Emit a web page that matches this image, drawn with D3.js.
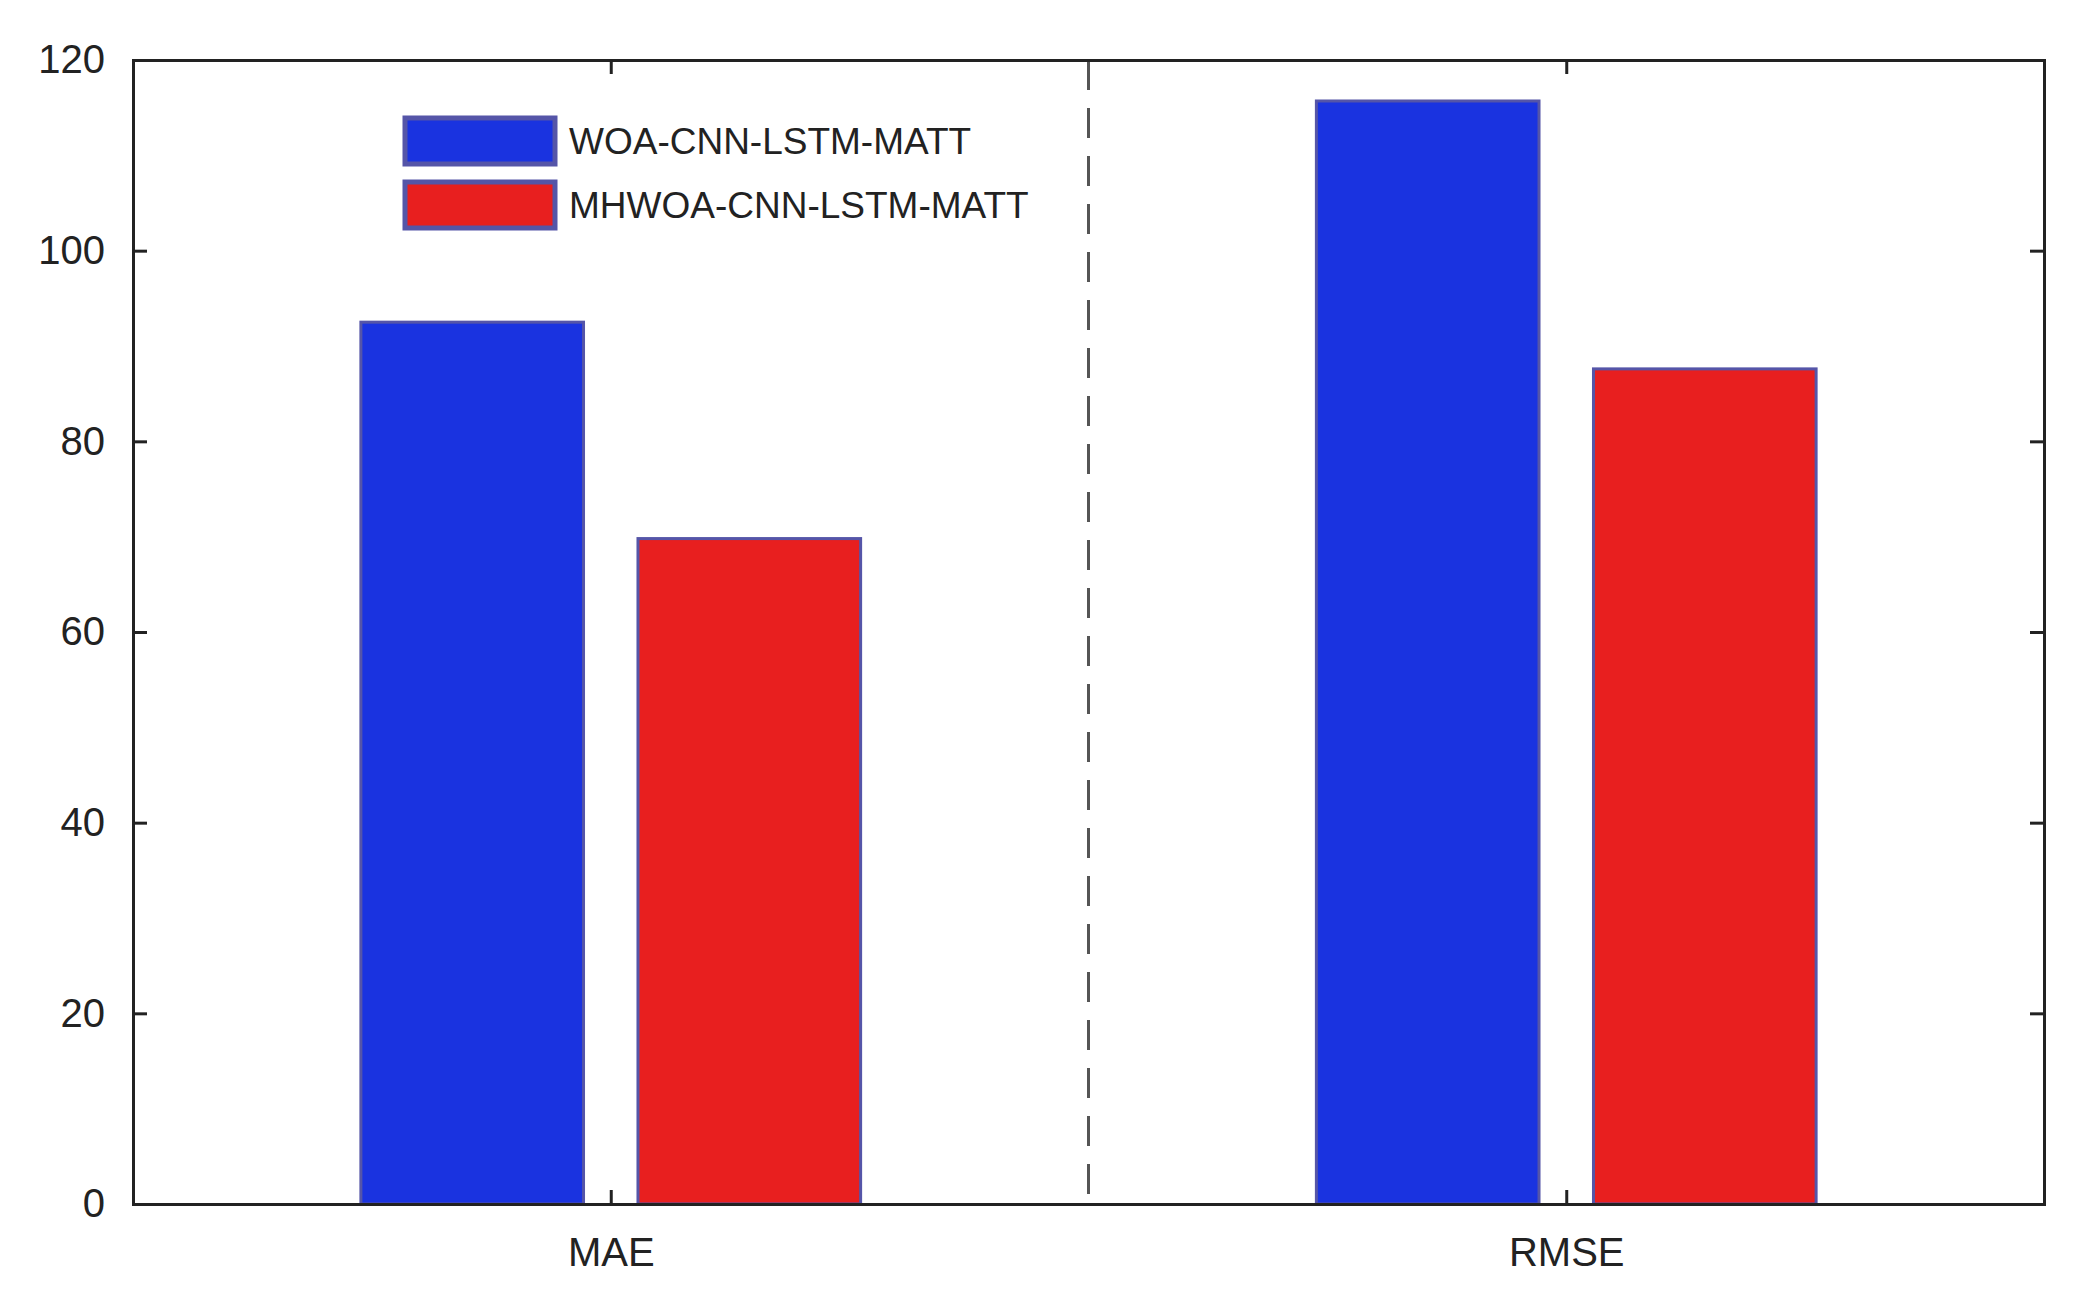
<!DOCTYPE html>
<html>
<head>
<meta charset="UTF-8">
<script src="https://d3js.org/d3.v7.min.js"></script>
<style>
  body { margin: 0; background: #fff; }
  text { font-family: Arial, "Liberation Sans", sans-serif; fill: #222; }
</style>
</head>
<body>
<script>
const categories = ["MAE", "RMSE"];
const series = ["WOA-CNN-LSTM-MATT", "MHWOA-CNN-LSTM-MATT"];
const woaValues = [92.5, 115.7];
const mhwoaValues = [69.8, 87.6];
const yTicks = [0, 20, 40, 60, 80, 100, 120];

const W = 2073, H = 1296;
const m = { left: 133, right: 29, top: 60, bottom: 92 };
const colors = ["#1a33e0", "#e81f1f"];
const edge = "#5555a8";

const svg = d3.select("body").append("svg").attr("width", W).attr("height", H);

const x = d3.scaleLinear().domain([0.5, 2.5]).range([m.left, W - m.right]);
const y = d3.scaleLinear().domain([0, 120]).range([H - m.bottom, m.top]);

const bw = 0.233, off = 0.145;
const rows = [];
categories.forEach((c, i) => {
  rows.push({ pos: i + 1 - off, v: woaValues[i], s: 0 });
  rows.push({ pos: i + 1 + off, v: mhwoaValues[i], s: 1 });
});

// dashed separator
svg.append("line")
  .attr("x1", x(1.5)).attr("x2", x(1.5))
  .attr("y1", y(120)).attr("y2", y(0))
  .attr("stroke", "#555").attr("stroke-width", 3)
  .attr("stroke-dasharray", "30,18");

svg.selectAll("rect.bar")
  .data(rows)
  .enter()
  .append("rect")
  .attr("class", "bar")
  .attr("x", d => x(d.pos - bw / 2))
  .attr("width", d => x(d.pos + bw / 2) - x(d.pos - bw / 2))
  .attr("y", d => y(d.v))
  .attr("height", d => y(0) - y(d.v))
  .attr("fill", d => colors[d.s])
  .attr("stroke", edge).attr("stroke-width", 3);

// axes with inward ticks on all sides
const tickLen = 14;
svg.append("g")
  .attr("transform", "translate(" + m.left + ",0)")
  .call(d3.axisLeft(y).tickValues(yTicks).tickSize(-tickLen).tickPadding(28))
  .call(g => g.selectAll("text").style("font-size", "40px"));
svg.append("g")
  .attr("transform", "translate(" + (W - m.right) + ",0)")
  .call(d3.axisRight(y).tickValues(yTicks).tickSize(-tickLen).tickFormat(""));
svg.append("g")
  .attr("transform", "translate(0," + (H - m.bottom) + ")")
  .call(d3.axisBottom(x).tickValues([1, 2]).tickSize(-tickLen).tickPadding(34)
    .tickFormat((d, i) => categories[i]))
  .call(g => g.selectAll("text").style("font-size", "40px"));
svg.append("g")
  .attr("transform", "translate(0," + m.top + ")")
  .call(d3.axisTop(x).tickValues([1, 2]).tickSize(-tickLen).tickFormat(""));

svg.selectAll(".domain").attr("stroke", "#222").attr("stroke-width", 3);
svg.selectAll(".tick line").attr("stroke", "#222").attr("stroke-width", 3);

// legend
const lg = svg.append("g").attr("transform", "translate(405,118)");
series.forEach((s, i) => {
  const g = lg.append("g").attr("transform", "translate(0," + i * 64 + ")");
  g.append("rect").attr("width", 150).attr("height", 46)
    .attr("fill", colors[i]).attr("stroke", edge).attr("stroke-width", 5);
  g.append("text").attr("x", 164).attr("y", 36)
    .style("font-size", "37px").text(s);
});
</script>
</body>
</html>
